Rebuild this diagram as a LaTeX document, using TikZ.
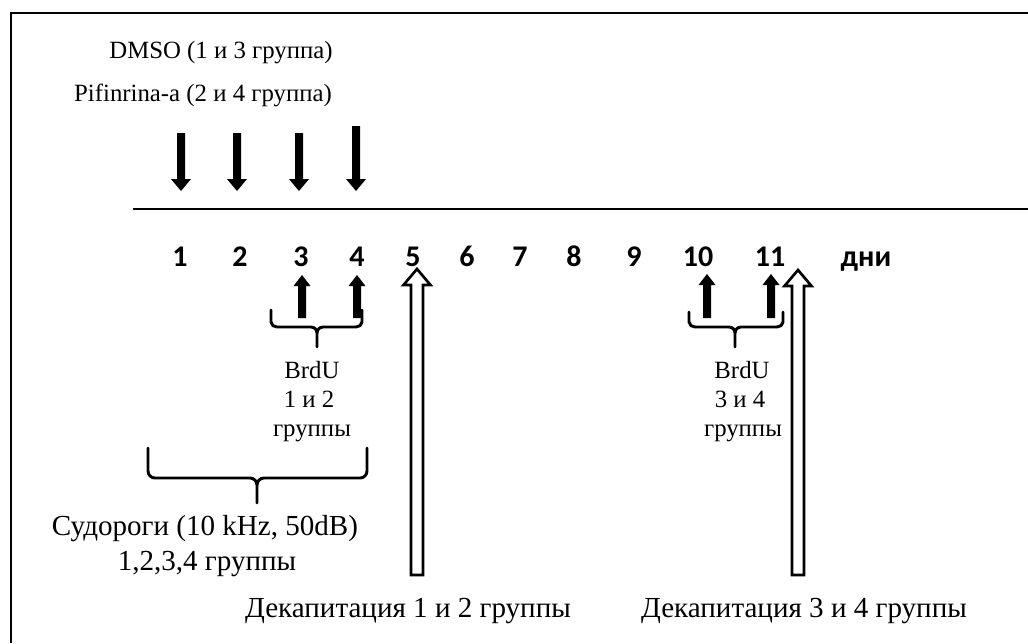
\documentclass[tikz,border=0pt]{standalone}
\usepackage{fontspec}
\setmainfont{Liberation Serif}
\newfontfamily\numfont{Carlito}
\begin{document}
\begin{tikzpicture}[x=0.75pt,y=-0.75pt,
  lbl/.style={font=\fontsize{18.6}{22}\selectfont, inner sep=0pt, anchor=base},
  biglbl/.style={font=\fontsize{21.8}{25}\selectfont, inner sep=0pt, anchor=base},
  daynum/.style={font=\numfont\bfseries\fontsize{22.5}{26}\selectfont, inner sep=0pt, anchor=base},
  framestyle/.style={line width=2pt},
  axisstyle/.style={line width=2pt},
  bracket/.style={draw=black, line width=2.2pt, line cap=round, line join=round},
  hollow/.style={draw=black, line width=2pt, fill=white, line join=miter},
  pics/darr/.style={code={\fill[black] (-4,-#1) -- (4,-#1) -- (4,-12) -- (10,-12) -- (0,0) -- (-10,-12) -- (-4,-12) -- cycle;}},
  pics/uarr/.style={code={\fill[black] (-4,#1) -- (4,#1) -- (4,11) -- (8.5,11) -- (0,0) -- (-8.5,11) -- (-4,11) -- cycle;}},
  pics/harr/.style={code={\filldraw[hollow] (-6,#1) -- (6,#1) -- (6,16) -- (13.5,16) -- (0,0) -- (-13.5,16) -- (-6,16) -- cycle;}}
]
\useasboundingbox (0,0) rectangle (1028,643);
\fill[white] (0,0) rectangle (1028,643);
% frame
\coordinate (frTR) at (1028,13);
\coordinate (frTL) at (11,13);
\coordinate (frBL) at (11,643);
\draw[framestyle] (frTR) -- (frTL) -- (frBL);

% top labels
\node[lbl] (dmso) at (221,58) {DMSO (1 и 3 группа)};
\node[lbl] (pifi) at (203,101) {Pifinrina-a (2 и 4 группа)};

% down arrows
\pic at (181,191) {darr=58};
\pic at (237,191) {darr=58};
\pic at (299,191) {darr=58};
\pic at (356,191) {darr=65};

% axis
\coordinate (axL) at (133,209);
\coordinate (axR) at (1028,209);
\draw[axisstyle] (axL) -- (axR);

% day numbers
\foreach \d/\x in {1/180,2/240,3/301,4/357,5/413,6/467,7/520,8/574,9/634,10/698,11/770}
  \node[daynum] (d\d) at (\x,266) {\d};
\node[daynum] (days) at (866,266) {дни};

% BrdU up arrows
\pic at (302,275) {uarr=43};
\pic at (357,275) {uarr=43};
\pic at (707,274) {uarr=44};
\pic at (771,274) {uarr=44};

% brackets
\draw[bracket] (271,310) -- (271,322) to[out=-90,in=180] (277,327) -- (311,327) to[out=0,in=90] (317,333) -- (317,347);
\draw[bracket] (362,310) -- (362,322) to[out=-90,in=0] (356,327) -- (323,327) to[out=180,in=90] (317,333);
\draw[bracket] (689,312) -- (689,322) to[out=-90,in=180] (695,327) -- (729,327) to[out=0,in=90] (735,333) -- (735,347);
\draw[bracket] (783,312) -- (783,322) to[out=-90,in=0] (777,327) -- (741,327) to[out=180,in=90] (735,333);
\draw[bracket] (148,448) -- (148,471) to[out=-90,in=180] (155,478) -- (250,478) to[out=0,in=90] (257,485) -- (257,503);
\draw[bracket] (367,448) -- (367,471) to[out=-90,in=0] (360,478) -- (264,478) to[out=180,in=90] (257,485);

% BrdU labels
\node[lbl] (b1a) at (312,378) {BrdU};
\node[lbl] (b1b) at (309,407) {1 и 2};
\node[lbl] (b1c) at (312,436) {группы};
\node[lbl] (b2a) at (742,378) {BrdU};
\node[lbl] (b2b) at (740,407) {3 и 4};
\node[lbl] (b2c) at (743,436) {группы};

% seizures label
\node[biglbl] (sud1) at (205,535) {Судороги (10 kHz, 50dB)};
\node[biglbl] (sud2) at (207,570) {1,2,3,4 группы};

% hollow arrows (decapitation)
\pic at (417,269) {harr=306};
\pic at (798,270) {harr=305};

\node[biglbl] (dec1) at (408,617) {Декапитация 1 и 2 группы};
\node[biglbl] (dec2) at (804,617) {Декапитация 3 и 4 группы};
\end{tikzpicture}
\end{document}
